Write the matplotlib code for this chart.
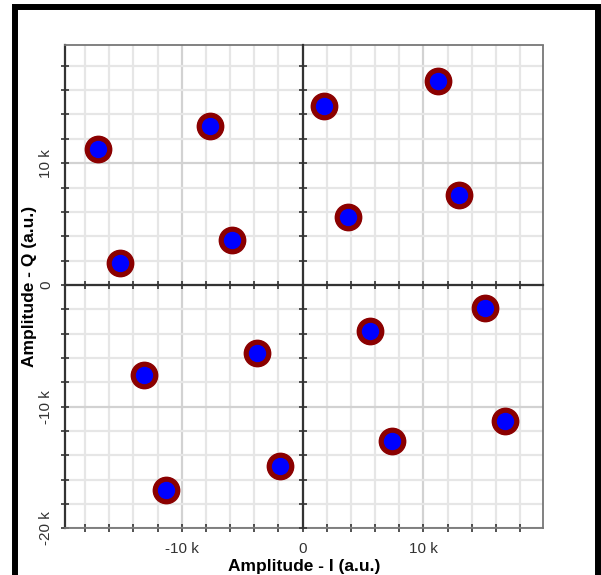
import numpy as np
import matplotlib.pyplot as plt
from matplotlib.ticker import MultipleLocator, FuncFormatter
from matplotlib.patches import Rectangle

# Centros de los 16 símbolos de la constelación (a.u.)
amp_i = [-16960, -7640, -5830, -15080, 1780, 11220, 3790, 12960,
         5580, 15080, 7370, 16740, -13160, -3790, -1860, -11280]
amp_q = [11160, 13030, 3730, 1840, 14710, 16720, 5610, 7380,
         -3790, -1930, -12830, -11190, -7420, -5560, -14850, -16840]

plt.rcParams['font.family'] = ['Liberation Sans', 'DejaVu Sans']

fig = plt.figure(figsize=(6.01, 5.75), dpi=100)
ax = fig.add_axes([0.1075, 0.0809, 0.7960, 0.8408])

ax.set_xlim(-19700, 19900)
ax.set_ylim(-20000, 19700)

# rejilla: menor cada 2k, mayor cada 10k
for axis in (ax.xaxis, ax.yaxis):
    axis.set_major_locator(MultipleLocator(10000))
    axis.set_minor_locator(MultipleLocator(2000))
ax.grid(which='minor', color='#e6e6e6', linewidth=1.6)
ax.grid(which='major', color='#d2d2d2', linewidth=1.6)
ax.set_axisbelow(True)

fmt = FuncFormatter(lambda v, p: '0' if v == 0 else f'{int(v / 1000)} k')
ax.xaxis.set_major_formatter(fmt)
ax.yaxis.set_major_formatter(fmt)

ax.tick_params(which='both', direction='inout', length=6, width=1.2,
               color='#333333', labelsize=11, labelcolor='#333333')
ax.tick_params(axis='x', pad=7)
ax.tick_params(axis='y', pad=5)
for lab in ax.get_yticklabels():
    lab.set_rotation(90)
    lab.set_va('center')

# bordes
ax.spines['left'].set_color('#333333')
ax.spines['left'].set_linewidth(1.6)
for s in ('top', 'right', 'bottom'):
    ax.spines[s].set_color('#777777')
    ax.spines[s].set_linestyle((0, (1, 1)))
    ax.spines[s].set_linewidth(1.3)

# ejes centrales en cero
ax0 = fig.add_axes(ax.get_position(), facecolor='none')
ax0.set_xlim(ax.get_xlim())
ax0.set_ylim(ax.get_ylim())
ax0.spines['left'].set_position(('data', 0))
ax0.spines['bottom'].set_position(('data', 0))
ax0.spines['top'].set_visible(False)
ax0.spines['right'].set_visible(False)
for s in ('left', 'bottom'):
    ax0.spines[s].set_color('#333333')
    ax0.spines[s].set_linewidth(1.6)
for axis in (ax0.xaxis, ax0.yaxis):
    axis.set_major_locator(MultipleLocator(2000))
ax0.tick_params(direction='inout', length=6, width=1.2, color='#333333',
                labelleft=False, labelbottom=False)

# puntos de la constelación
ax.plot(amp_i, amp_q, 'o', color='#8b0000', markersize=19, zorder=3)
ax.plot(amp_i, amp_q, 'o', color='#0000ff', markersize=11.5, zorder=4)

ax.set_xlabel('Amplitude - I (a.u.)', fontsize=12.5, fontweight='bold', labelpad=2)
ax.set_ylabel('Amplitude - Q (a.u.)', fontsize=12.5, fontweight='bold', labelpad=2)

# marco negro exterior
fig.add_artist(Rectangle((14.5 / 601, -0.1), 583 / 601, 0.1 + 568 / 575,
                         transform=fig.transFigure, fill=False,
                         edgecolor='black', linewidth=4.3))

fig.savefig('out.png', dpi=100)
